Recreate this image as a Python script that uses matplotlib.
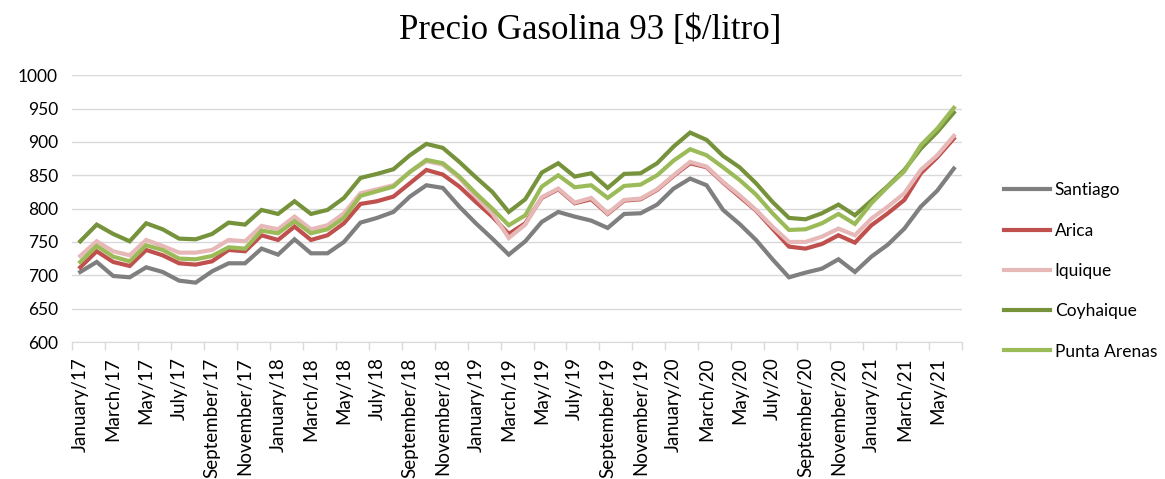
import matplotlib.pyplot as plt

# Monthly prices, January 2017 - June 2021
month_names = ['January', 'February', 'March', 'April', 'May', 'June', 'July',
               'August', 'September', 'October', 'November', 'December']
years = ['17', '18', '19', '20', '21']
labels = [f'{m}/{y}' for y in years for m in month_names][:54]

santiago = [705, 720, 699, 697, 712, 705, 692, 689, 706, 718, 718, 740, 731, 754, 733, 733, 750, 779,
            786, 795, 818, 835, 831, 803, 778, 755, 731, 751, 780, 795, 788, 782, 771, 792, 793, 806,
            830, 845, 835, 798, 777, 753, 724, 697, 704, 710, 724, 705, 728, 746, 770, 803, 827, 860]
arica = [712, 736, 720, 714, 738, 730, 718, 716, 721, 738, 736, 760, 753, 773, 753, 760, 778, 807,
         811, 818, 838, 858, 851, 833, 810, 788, 762, 778, 816, 829, 808, 814, 792, 812, 814, 828,
         849, 868, 862, 839, 818, 797, 770, 743, 740, 747, 760, 749, 775, 793, 813, 853, 877, 905]
iquique = [729, 751, 736, 730, 753, 744, 734, 734, 738, 753, 751, 774, 769, 788, 769, 775, 793, 823,
           829, 835, 855, 871, 866, 846, 818, 793, 756, 776, 817, 830, 809, 816, 793, 813, 815, 829,
           850, 870, 863, 840, 820, 798, 773, 750, 750, 758, 770, 760, 785, 803, 823, 858, 880, 909]
coyhaique = [751, 776, 762, 751, 778, 769, 755, 754, 762, 779, 776, 798, 792, 811, 792, 798, 816, 846,
             852, 859, 880, 897, 891, 870, 847, 825, 795, 814, 854, 868, 848, 853, 831, 852, 853, 868,
             893, 914, 903, 879, 862, 838, 810, 786, 784, 793, 806, 790, 812, 834, 858, 890, 915, 944]
punta_arenas = [720, 744, 728, 721, 745, 738, 725, 724, 729, 742, 740, 767, 763, 781, 763, 769, 786, 819,
                826, 833, 855, 873, 868, 848, 823, 800, 775, 790, 833, 850, 832, 835, 816, 834, 836, 850,
                872, 889, 880, 862, 843, 821, 793, 768, 769, 778, 792, 777, 808, 833, 856, 895, 920, 951]

series = [('Santiago', santiago, '#7f7f7f'),
          ('Arica', arica, '#c0504d'),
          ('Iquique', iquique, '#e6b9b8'),
          ('Coyhaique', coyhaique, '#76933c'),
          ('Punta Arenas', punta_arenas, '#9bbb59')]

plt.rcParams['font.family'] = ['Lato', 'DejaVu Sans']

fig = plt.figure(figsize=(11.65, 4.79), dpi=100)
ax = fig.add_axes([0.0618, 0.286, 0.7640, 0.557])

x = list(range(len(labels)))
for name, vals, col in series:
    ax.plot(x, vals, color=col, lw=3, label=name, solid_joinstyle='miter')

ax.set_ylim(600, 1000)
ax.set_yticks(range(600, 1001, 50))
ax.set_xlim(-0.5, len(labels) - 0.5)
ax.set_xticks(x[::2])
ax.set_xticklabels(labels[::2], rotation=90, fontsize=13.5)
ax.tick_params(axis='x', length=0, pad=11)
ax.set_xticks([i - 0.5 for i in range(0, len(labels) + 1, 2)], minor=True)
ax.tick_params(axis='x', which='minor', length=6, color='#d9d9d9', width=1)
ax.tick_params(axis='y', length=0, labelsize=12.5, pad=10)

ax.grid(axis='y', color='#d9d9d9', lw=1)
ax.set_axisbelow(True)
for s in ['top', 'right', 'left']:
    ax.spines[s].set_visible(False)
ax.spines['bottom'].set_color('#d9d9d9')

fig.text(0.507, 0.937, 'Precio Gasolina 93 [$/litro]', ha='center', va='center',
         fontsize=25, family='Liberation Serif')

ax.legend(loc='upper left', bbox_to_anchor=(0.848, 0.652), bbox_transform=fig.transFigure,
          frameon=False, fontsize=12.5, handlelength=2.65, handletextpad=0.3, labelspacing=1.4)

fig.savefig('out.png', dpi=100)
